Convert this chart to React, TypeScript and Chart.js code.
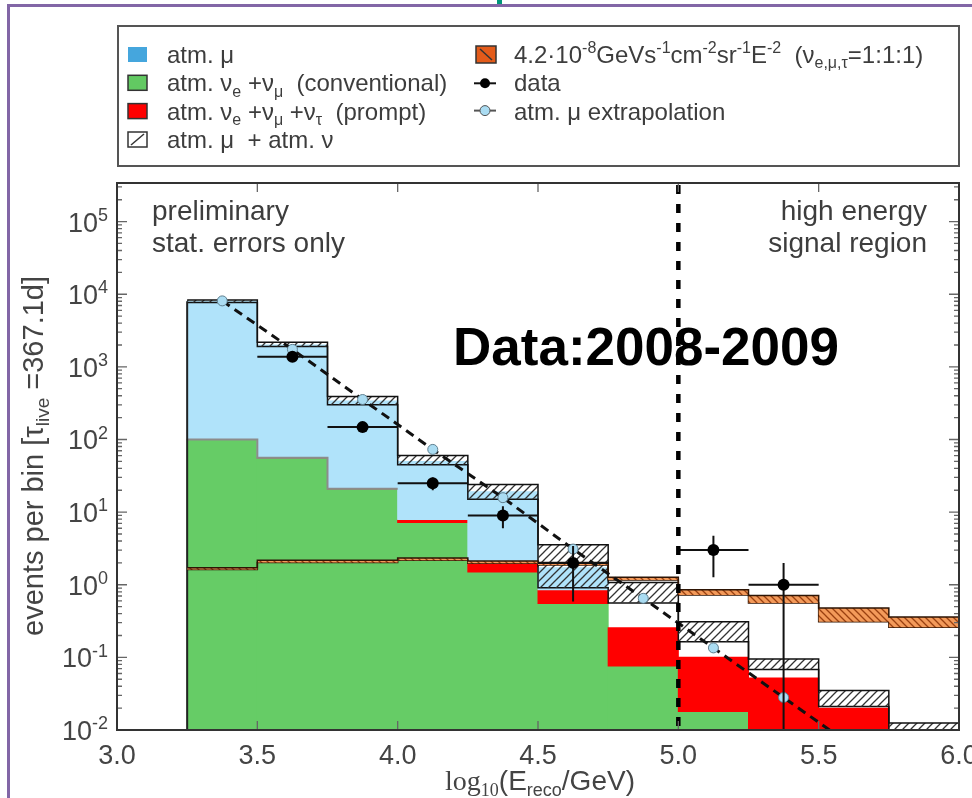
import React, { useEffect, useRef } from "react";
import { Chart, registerables } from "chart.js";

Chart.register(...registerables);

const W = 972;
const H = 798;

// log10(E_reco / GeV) binning
const binEdges = [3.25, 3.5, 3.75, 4.0, 4.25, 4.5, 4.75, 5.0, 5.25, 5.5, 5.75, 6.0];
const binCenters = [3.375, 3.625, 3.875, 4.125, 4.375, 4.625, 4.875, 5.125, 5.375, 5.625, 5.875];

// expected events per bin for each simulated component
const conventionalNu = [100, 56, 21, 7.2, 1.5, 0.55, 0.076, 0.018, 0, 0, 0];
const promptNu = [0.4, 0.4, 0.5, 0.7, 0.57, 0.3, 0.18, 0.082, 0.052, 0.02, 0.008];
const atmMuon = [7900, 1944, 318, 42, 17, 0.86, 0, 0, 0, 0, 0];

// atm. mu + atm. nu uncertainty band
const bgBandLow = [7700, 1900, 300, 45, 15, 0.91, 0.56, 0.164, 0.068, 0.021, 0.0098];
const bgBandHigh = [8300, 2180, 390, 60, 24, 3.55, 1.07, 0.31, 0.095, 0.035, 0.0125];

// E^-2 signal expectation band
const signalLow = [1.62, 2.02, 2.02, 2.17, 1.97, 1.87, 1.16, 0.72, 0.56, 0.31, 0.26];
const signalHigh = [1.72, 2.17, 2.17, 2.33, 2.12, 2.02, 1.27, 0.85, 0.71, 0.48, 0.36];

// atm. mu extrapolation
const extrapE = [3.375, 3.625, 3.875, 4.125, 4.375, 4.625, 4.875, 5.125, 5.375, 5.625];
const extrapMuon = [8100, 1740, 355, 73, 15.8, 3.1, 0.65, 0.135, 0.028, 0.0058];

// observed events
const dataE = [3.625, 3.875, 4.125, 4.375, 4.625, 5.125, 5.375];
const dataEvents = [1380, 148, 25, 9, 2, 3, 1];
const dataStatErr = [37, 12, 5, 3, 1.41, 1.73, 1];
const halfBinWidth = 0.125;

const signalRegionStart = 5.0;
const xTickValues = [3.5, 4.0, 4.5, 5.0, 5.5];
const yDecades = [-2, -1, 0, 1, 2, 3, 4, 5];
const Y_MIN = 0.01;
const Y_MAX = 3.4e5;

const SANS = '"Liberation Sans", Arial, sans-serif';
const SERIF = '"Liberation Serif", "Times New Roman", serif';

const COLORS = {
  muon: "#b0e3fa",
  muonKey: "#45a6dd",
  conv: "#66cc66",
  prompt: "#ff0000",
  text: "#3d3d3d",
  frame: "#333333",
  purple: "#8266a6",
};

type Part = { t: string; pos?: "sub" | "sup"; family?: string };

function drawRich(
  ctx: CanvasRenderingContext2D,
  parts: Part[],
  x: number,
  y: number,
  size: number,
  family: string,
  align: "left" | "center" | "right",
  color: string
) {
  const small = Math.round(size * 0.66);
  const fonts = parts.map((p) => `${p.pos ? small : size}px ${p.family ?? family}`);
  let w = 0;
  parts.forEach((p, i) => {
    ctx.font = fonts[i];
    w += ctx.measureText(p.t).width;
  });
  let cx = align === "left" ? x : align === "right" ? x - w : x - w / 2;
  ctx.textAlign = "left";
  ctx.textBaseline = "alphabetic";
  ctx.fillStyle = color;
  parts.forEach((p, i) => {
    ctx.font = fonts[i];
    const dy = p.pos === "sub" ? size * 0.22 : p.pos === "sup" ? -size * 0.4 : 0;
    ctx.fillText(p.t, cx, y + dy);
    cx += ctx.measureText(p.t).width;
  });
  return w;
}

function makeHatch(ctx: CanvasRenderingContext2D, size: number, line: string, bg: string | null, forward: boolean) {
  const tile = document.createElement("canvas");
  tile.width = size;
  tile.height = size;
  const g = tile.getContext("2d")!;
  if (bg) {
    g.fillStyle = bg;
    g.fillRect(0, 0, size, size);
  }
  g.strokeStyle = line;
  g.lineWidth = 1.3;
  g.beginPath();
  if (forward) {
    g.moveTo(-2, size + 2);
    g.lineTo(size + 2, -2);
    g.moveTo(-2, 2);
    g.lineTo(2, -2);
    g.moveTo(size - 2, size + 2);
    g.lineTo(size + 2, size - 2);
  } else {
    g.moveTo(-2, -2);
    g.lineTo(size + 2, size + 2);
    g.moveTo(size - 2, -2);
    g.lineTo(size + 2, 2);
    g.moveTo(-2, size - 2);
    g.lineTo(2, size + 2);
  }
  g.stroke();
  return ctx.createPattern(tile, "repeat")!;
}

// step outline: one point per bin edge; each bin's value runs to the next edge
const stepData = (vals: number[], nBins = vals.length) =>
  binEdges.slice(0, nBins + 1).map((x, i) => ({ x, y: vals[Math.min(i, nBins - 1)] }));

// bars spanning [lower, upper]; a bar with no lower part starts at the axis
const stackedBars = (lower: number[], upper: number[]) =>
  binCenters
    .map((x, i) => ({ x, y: lower[i] > 0 ? ([lower[i], upper[i]] as any) : upper[i] }))
    .filter((d, i) => upper[i] > lower[i]);

function drawLegend(ctx: CanvasRenderingContext2D) {
  ctx.save();
  ctx.strokeStyle = "#555";
  ctx.lineWidth = 2;
  ctx.strokeRect(118, 26, 841, 140);

  const rows = [63, 91.3, 119.6, 148];
  const mx = 128;
  const mw = 19;
  const mh = 15;
  const tx = 167;

  ctx.fillStyle = COLORS.muonKey;
  ctx.fillRect(mx, rows[0] - 16, mw, mh);

  ctx.lineWidth = 1.5;
  ctx.strokeStyle = "#333";
  ctx.fillStyle = "#62c962";
  ctx.fillRect(mx, rows[1] - 16, mw, mh);
  ctx.strokeRect(mx, rows[1] - 16, mw, mh);
  ctx.fillStyle = COLORS.prompt;
  ctx.fillRect(mx, rows[2] - 16, mw, mh);
  ctx.strokeRect(mx, rows[2] - 16, mw, mh);
  ctx.fillStyle = "#fff";
  ctx.fillRect(mx, rows[3] - 16, mw, mh);
  ctx.strokeRect(mx, rows[3] - 16, mw, mh);
  ctx.beginPath();
  ctx.moveTo(mx + 3, rows[3] - 3);
  ctx.lineTo(mx + mw - 3, rows[3] - 14);
  ctx.stroke();

  const fs = 24;
  drawRich(ctx, [{ t: "atm. μ" }], tx, rows[0], fs, SANS, "left", COLORS.text);
  drawRich(
    ctx,
    [{ t: "atm. ν" }, { t: "e", pos: "sub" }, { t: " +ν" }, { t: "μ", pos: "sub" }, { t: "  (conventional)" }],
    tx,
    rows[1],
    fs,
    SANS,
    "left",
    COLORS.text
  );
  drawRich(
    ctx,
    [
      { t: "atm. ν" },
      { t: "e", pos: "sub" },
      { t: " +ν" },
      { t: "μ", pos: "sub" },
      { t: " +ν" },
      { t: "τ", pos: "sub" },
      { t: "  (prompt)" },
    ],
    tx,
    rows[2],
    fs,
    SANS,
    "left",
    COLORS.text
  );
  drawRich(ctx, [{ t: "atm. μ  + atm. ν" }], tx, rows[3], fs, SANS, "left", COLORS.text);

  const mx2 = 476;
  const tx2 = 514;
  ctx.fillStyle = "#e35b1a";
  ctx.fillRect(mx2, rows[0] - 17, mw + 1, mh + 2);
  ctx.strokeStyle = "#333";
  ctx.strokeRect(mx2, rows[0] - 17, mw + 1, mh + 2);
  ctx.beginPath();
  ctx.moveTo(mx2 + 4, rows[0] - 14);
  ctx.lineTo(mx2 + mw - 3, rows[0] - 3);
  ctx.stroke();

  const cx2 = mx2 + 9;
  ctx.strokeStyle = "#111";
  ctx.lineWidth = 2;
  ctx.beginPath();
  ctx.moveTo(cx2 - 11, rows[1] - 8);
  ctx.lineTo(cx2 + 11, rows[1] - 8);
  ctx.stroke();
  ctx.fillStyle = "#000";
  ctx.beginPath();
  ctx.arc(cx2, rows[1] - 8, 5, 0, Math.PI * 2);
  ctx.fill();

  ctx.strokeStyle = "#555";
  ctx.beginPath();
  ctx.moveTo(cx2 - 11, rows[2] - 9);
  ctx.lineTo(cx2 + 11, rows[2] - 9);
  ctx.stroke();
  ctx.fillStyle = "#aadcf2";
  ctx.lineWidth = 1;
  ctx.beginPath();
  ctx.arc(cx2, rows[2] - 9, 5, 0, Math.PI * 2);
  ctx.fill();
  ctx.stroke();

  drawRich(
    ctx,
    [
      { t: "4.2·10" },
      { t: "-8", pos: "sup" },
      { t: "GeVs" },
      { t: "-1", pos: "sup" },
      { t: "cm" },
      { t: "-2", pos: "sup" },
      { t: "sr" },
      { t: "-1", pos: "sup" },
      { t: "E" },
      { t: "-2", pos: "sup" },
      { t: "  (ν" },
      { t: "e,μ,τ", pos: "sub" },
      { t: "=1:1:1)" },
    ],
    tx2,
    rows[0],
    fs,
    SANS,
    "left",
    COLORS.text
  );
  drawRich(ctx, [{ t: "data" }], tx2, rows[1], fs, SANS, "left", COLORS.text);
  drawRich(ctx, [{ t: "atm. μ extrapolation" }], tx2, rows[2], fs, SANS, "left", COLORS.text);
  ctx.restore();
}

const decorPlugin = {
  id: "decor",
  beforeDraw(chart: any) {
    const ctx: CanvasRenderingContext2D = chart.ctx;
    ctx.save();
    ctx.fillStyle = "#ffffff";
    ctx.fillRect(0, 0, W, H);
    ctx.fillStyle = COLORS.purple;
    ctx.fillRect(7, 4, W - 7, 3);
    ctx.fillRect(7, 4, 3, H - 4);
    ctx.fillStyle = "#00967a";
    ctx.fillRect(497, 0, 5, 4);
    ctx.restore();
  },
  beforeDatasetDraw(chart: any, args: any) {
    const label = chart.data.datasets[args.index].label;
    const ctx: CanvasRenderingContext2D = chart.ctx;
    const a = chart.chartArea;
    const xs = chart.scales.x;
    const ys = chart.scales.y;
    if (label === "atm. mu + atm. nu") {
      // left edge of the stacked histogram
      const total = conventionalNu[0] + promptNu[0] + atmMuon[0];
      ctx.save();
      ctx.strokeStyle = "#222";
      ctx.lineWidth = 2;
      ctx.beginPath();
      const px = xs.getPixelForValue(binEdges[0]);
      ctx.moveTo(px, a.bottom);
      ctx.lineTo(px, ys.getPixelForValue(total));
      ctx.stroke();
      ctx.restore();
      return;
    }
    if (label !== "data") return;
    ctx.save();
    ctx.beginPath();
    ctx.rect(a.left, a.top, a.right - a.left, a.bottom - a.top);
    ctx.clip();
    ctx.strokeStyle = "#111";
    ctx.lineWidth = 2;
    ctx.beginPath();
    dataE.forEach((e, i) => {
      const py = ys.getPixelForValue(dataEvents[i]);
      const px = xs.getPixelForValue(e);
      ctx.moveTo(xs.getPixelForValue(e - halfBinWidth), py);
      ctx.lineTo(xs.getPixelForValue(e + halfBinWidth), py);
      const lo = dataEvents[i] - dataStatErr[i];
      const pLo = lo > 0 ? ys.getPixelForValue(lo) : a.bottom + 4;
      ctx.moveTo(px, pLo);
      ctx.lineTo(px, ys.getPixelForValue(dataEvents[i] + dataStatErr[i]));
    });
    ctx.stroke();
    ctx.restore();
  },
  afterDatasetsDraw(chart: any) {
    const ctx: CanvasRenderingContext2D = chart.ctx;
    const a = chart.chartArea;
    const xs = chart.scales.x;
    const ys = chart.scales.y;
    ctx.save();
    const px = xs.getPixelForValue(signalRegionStart);
    ctx.strokeStyle = "#000";
    ctx.lineWidth = 4.5;
    ctx.setLineDash([9, 10]);
    ctx.beginPath();
    ctx.moveTo(px, a.top + 2);
    ctx.lineTo(px, a.bottom);
    ctx.stroke();
    ctx.setLineDash([]);

    ctx.strokeStyle = "#666";
    ctx.lineWidth = 1.3;
    ctx.beginPath();
    xTickValues.forEach((v) => {
      const p = xs.getPixelForValue(v);
      ctx.moveTo(p, a.bottom);
      ctx.lineTo(p, a.bottom - 9);
      ctx.moveTo(p, a.top);
      ctx.lineTo(p, a.top + 9);
    });
    yDecades.forEach((d) => {
      for (let k = 1; k <= 9; k++) {
        const v = k * Math.pow(10, d);
        if (v < Y_MIN || v > Y_MAX) continue;
        const p = ys.getPixelForValue(v);
        const len = k === 1 ? 10 : 5;
        ctx.moveTo(a.left, p);
        ctx.lineTo(a.left + len, p);
        ctx.moveTo(a.right, p);
        ctx.lineTo(a.right - len, p);
      }
    });
    ctx.stroke();
    ctx.strokeStyle = COLORS.frame;
    ctx.lineWidth = 2;
    ctx.strokeRect(a.left, a.top, a.right - a.left, a.bottom - a.top);
    ctx.restore();
  },
  afterDraw(chart: any) {
    const ctx: CanvasRenderingContext2D = chart.ctx;
    const a = chart.chartArea;
    const ys = chart.scales.y;
    ctx.save();
    yDecades.forEach((d) => {
      const p = ys.getPixelForValue(Math.pow(10, d));
      drawRich(ctx, [{ t: "10" }, { t: String(d), pos: "sup" }], a.left - 9, p + 10, 27, SANS, "right", "#444");
    });

    drawRich(
      ctx,
      [
        { t: "log", family: SERIF },
        { t: "10", pos: "sub", family: SERIF },
        { t: "(E" },
        { t: "reco", pos: "sub" },
        { t: "/GeV)" },
      ],
      540,
      790,
      28,
      SANS,
      "center",
      "#444"
    );
    ctx.save();
    ctx.translate(43, 456);
    ctx.rotate(-Math.PI / 2);
    drawRich(
      ctx,
      [{ t: "events per bin [τ" }, { t: "live", pos: "sub" }, { t: " =367.1d]" }],
      0,
      0,
      29,
      SANS,
      "center",
      "#444"
    );
    ctx.restore();

    drawRich(ctx, [{ t: "preliminary" }], 152, 220, 28, SANS, "left", COLORS.text);
    drawRich(ctx, [{ t: "stat. errors only" }], 152, 252, 28, SANS, "left", COLORS.text);
    drawRich(ctx, [{ t: "high energy" }], 927, 220, 28, SANS, "right", COLORS.text);
    drawRich(ctx, [{ t: "signal region" }], 927, 252, 28, SANS, "right", COLORS.text);

    ctx.font = `bold 53px ${SANS}`;
    ctx.fillStyle = "#000";
    ctx.textAlign = "left";
    ctx.textBaseline = "alphabetic";
    ctx.fillText("Data:2008-2009", 453, 365);

    drawLegend(ctx);
    ctx.restore();
  },
};

export default function App() {
  const ref = useRef<HTMLCanvasElement>(null);

  useEffect(() => {
    const canvas = ref.current!;
    const ctx = canvas.getContext("2d")!;
    const bgHatch = makeHatch(ctx, 8, "#333", null, true);
    const signalHatch = makeHatch(ctx, 7, "#9a4010", "#f39a5a", false);

    const noBase = conventionalNu.map(() => 0);
    const promptTop = conventionalNu.map((c, i) => c + promptNu[i]);
    const muonTop = promptTop.map((p, i) => p + atmMuon[i]);

    const barCommon = {
      grouped: false,
      barPercentage: 1,
      categoryPercentage: 1,
      borderWidth: 0,
      inflateAmount: 0.5,
      clip: 0,
    };

    const chart = new Chart(canvas, {
      type: "bar",
      data: {
        datasets: [
          {
            ...barCommon,
            label: "atm. nu conventional",
            data: stackedBars(noBase, conventionalNu),
            backgroundColor: COLORS.conv,
            order: 12,
          } as any,
          {
            ...barCommon,
            label: "atm. nu prompt",
            data: stackedBars(conventionalNu, promptTop),
            backgroundColor: COLORS.prompt,
            order: 11,
          } as any,
          {
            ...barCommon,
            label: "atm. mu",
            data: stackedBars(promptTop, muonTop),
            backgroundColor: COLORS.muon,
            order: 10,
          } as any,
          {
            type: "line",
            label: "conventional edge",
            data: stepData(conventionalNu, 3),
            stepped: "before",
            borderColor: "#8c8c8c",
            borderWidth: 2,
            pointRadius: 0,
            fill: false,
            clip: 0,
            order: 9,
          } as any,
          {
            type: "line",
            label: "bg band low",
            data: stepData(bgBandLow),
            stepped: "before",
            borderColor: "#111",
            borderWidth: 1.5,
            pointRadius: 0,
            fill: false,
            clip: 0,
            order: 6,
          } as any,
          {
            type: "line",
            label: "atm. mu + atm. nu",
            data: stepData(bgBandHigh),
            stepped: "before",
            borderColor: "#111",
            borderWidth: 1.5,
            pointRadius: 0,
            fill: "-1",
            backgroundColor: bgHatch,
            clip: 0,
            order: 5,
          } as any,
          {
            type: "line",
            label: "signal low",
            data: stepData(signalLow),
            stepped: "before",
            borderColor: "#2e1505",
            borderWidth: 1.5,
            pointRadius: 0,
            fill: false,
            clip: 0,
            order: 4,
          } as any,
          {
            type: "line",
            label: "E^-2 signal",
            data: stepData(signalHigh),
            stepped: "before",
            borderColor: "#2e1505",
            borderWidth: 1.5,
            pointRadius: 0,
            fill: "-1",
            backgroundColor: signalHatch,
            clip: 0,
            order: 3,
          } as any,
          {
            type: "line",
            label: "atm. mu extrapolation",
            data: extrapE.map((x, i) => ({ x, y: extrapMuon[i] })),
            borderColor: "#111",
            borderWidth: 3,
            borderDash: [9, 6],
            pointRadius: (c: any) => (extrapMuon[c.dataIndex] >= Y_MIN ? 5 : 0),
            pointBackgroundColor: "#aadcf2",
            pointBorderColor: "#5f7f8f",
            pointBorderWidth: 1,
            fill: false,
            tension: 0,
            clip: 0,
            order: 2,
          } as any,
          {
            type: "line",
            label: "data",
            data: dataE.map((x, i) => ({ x, y: dataEvents[i] })),
            showLine: false,
            pointRadius: 6,
            pointBackgroundColor: "#000",
            pointBorderColor: "#000",
            pointBorderWidth: 0,
            clip: 0,
            order: 1,
          } as any,
        ],
      },
      options: {
        responsive: false,
        maintainAspectRatio: false,
        animation: false,
        events: [],
        layout: { padding: { left: 117, right: 13, top: 183, bottom: 28 } },
        plugins: {
          legend: { display: false },
          tooltip: { enabled: false },
          title: { display: false },
        },
        scales: {
          x: {
            type: "linear",
            min: 3,
            max: 6,
            offset: false,
            grid: { display: false },
            border: { display: false },
            ticks: {
              stepSize: 0.5,
              autoSkip: false,
              maxRotation: 0,
              padding: 2,
              color: "#444",
              font: { family: SANS, size: 27 },
              callback: (v: any) => Number(v).toFixed(1),
            },
            afterFit: (s: any) => {
              s.height = 40;
              s.paddingLeft = 0;
              s.paddingRight = 0;
            },
          },
          y: {
            type: "logarithmic",
            min: Y_MIN,
            max: Y_MAX,
            display: false,
          },
        },
      } as any,
      plugins: [decorPlugin],
    });

    return () => chart.destroy();
  }, []);

  return (
    <div style={{ position: "absolute", left: 0, top: 0, width: W, height: H, background: "#fff", overflow: "hidden" }}>
      <canvas ref={ref} width={W} height={H} style={{ display: "block", width: W, height: H }} />
    </div>
  );
}
